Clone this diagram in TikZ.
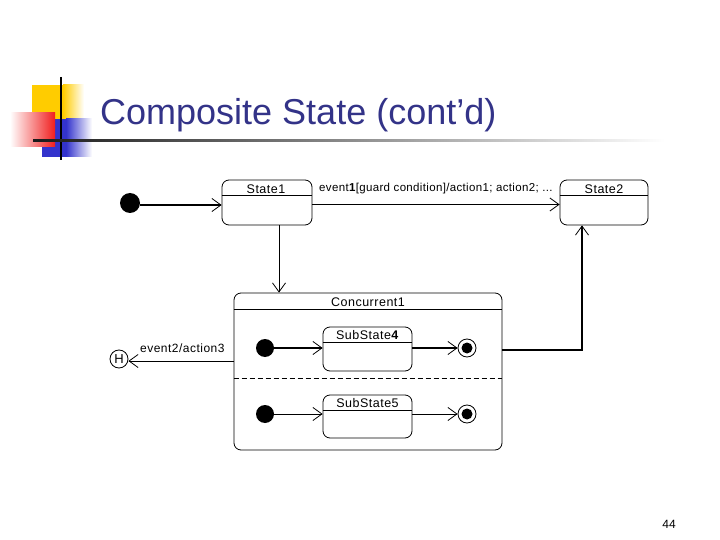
\documentclass[tikz,border=0pt]{standalone}
\usepackage{fontspec}
\setmainfont{Liberation Sans}
\usetikzlibrary{arrows.meta,calc}
\definecolor{titleblue}{RGB}{51,51,136}
\definecolor{decoyellow}{RGB}{255,204,0}
\definecolor{decoblue}{RGB}{51,51,204}
\definecolor{decored}{RGB}{240,30,30}
\newfontfamily\diagfont[LetterSpace=4]{Liberation Sans}
\newfontfamily\longfont[LetterSpace=3]{Liberation Sans}
\tikzset{
  statebox/.style={draw, line width=0.8pt, rounded corners=7pt, inner sep=0pt},
  statelabel/.style={font=\diagfont\fontsize{12.5}{14}\selectfont, inner sep=0pt},
  initdot/.style={circle, fill=black, inner sep=0pt},
  finalouter/.style={circle, draw, line width=0.8pt, fill=white, minimum size=18pt, inner sep=0pt},
  trans/.style={line width=0.8pt, -{Straight Barb[length=9pt,width=13pt,line width=0.8pt]}},
  thicktrans/.style={line width=1.6pt, -{Straight Barb[length=9pt,width=13pt,line width=0.8pt]}},
}
\begin{document}
\begin{tikzpicture}[x=1pt,y=-1pt]
\useasboundingbox (0,0) rectangle (720,540);
% decoration
\fill[decoyellow] (32,85) rectangle (63,119);
\shade[left color=decoyellow, right color=white] (63,85) rectangle (84,119);
\fill[decoblue] (42,119) rectangle (66,157);
\shade[left color=decoblue, right color=white] (66,119) rectangle (92,157);
\shade[left color=white, right color=decored] (10,113) rectangle (55,147);
\draw[line width=2pt] (61,77) -- (61,160);
\shade[left color=black!90, right color=white] (33,140) rectangle (665,142);
% title
\node[anchor=base west, inner sep=0pt, text=titleblue, font=\fontsize{36}{40}\selectfont] (title) at (100,125) {Composite State (cont’d)};
% top states
\node[initdot, minimum size=20pt] (i1) at (130,203) {};
\node[statebox, minimum width=90pt, minimum height=45pt] (s1) at (267,202.5) {};
\draw[line width=0.8pt] ([yshift=-16pt]s1.north west) -- ([yshift=-16pt]s1.north east);
\node[statelabel] (s1l) at (266,189) {State1};
\node[statebox, minimum width=88pt, minimum height=45pt] (s2) at (604,202.5) {};
\draw[line width=0.8pt] ([yshift=-16pt]s2.north west) -- ([yshift=-16pt]s2.north east);
\node[statelabel] (s2l) at (604,189) {State2};
\draw[thicktrans] (i1.east |- 0,205) -- (s1.west |- 0,205);
\draw[trans] ([yshift=-2pt]s1.east) -- ([yshift=-2pt]s2.west);
\node[anchor=west, inner sep=0pt, font=\longfont\fontsize{11.5}{13}\selectfont] (e1) at (319,189) {event\textbf{1}[guard condition]/action1; action2; ...};
% concurrent
\node[statebox, minimum width=268pt, minimum height=157pt] (c1) at (368,371.5) {};
\draw[line width=0.8pt] ([yshift=-17pt]c1.north west) -- ([yshift=-17pt]c1.north east);
\node[statelabel] (c1l) at (368,302) {Concurrent1};
\draw[line width=0.8pt, dashed, dash pattern=on 5pt off 3pt] (c1.west |- 0,378) -- (c1.east |- 0,378);
\draw[trans] ([xshift=12pt]s1.south) -- ([xshift=12pt]s1.south |- c1.north);
\draw[thicktrans] ([yshift=21.5pt]c1.east) -| ([xshift=-22pt]s2.south);
% history
\node[circle, draw, line width=0.8pt, minimum size=18pt, inner sep=0pt, font=\fontsize{13}{14}\selectfont] (h) at (119,359) {H};
\draw[trans] (c1.west |- 0,361) -- (h.east |- 0,361);
\node[anchor=west, inner sep=0pt, font=\diagfont\fontsize{12}{13}\selectfont] (e2) at (140,348) {event2/action3};
% region 1
\node[initdot, minimum size=18pt] (i4) at (265,348) {};
\node[statebox, minimum width=89pt, minimum height=44pt] (ss4) at (367.5,349) {};
\draw[line width=0.8pt] ([yshift=-16pt]ss4.north west) -- ([yshift=-16pt]ss4.north east);
\node[statelabel] (ss4l) at (367.5,335) {SubState\textbf{4}};
\node[finalouter] (f4) at (467,348) {};
\node[initdot, minimum size=11pt] (f4i) at (467,348) {};
\draw[thicktrans] (i4) -- (i4 -| ss4.west);
\draw[thicktrans] (ss4.east |- f4) -- (f4.west);
% region 2
\node[initdot, minimum size=18pt] (i5) at (265,414) {};
\node[statebox, minimum width=89pt, minimum height=43pt] (ss5) at (367.5,416.5) {};
\draw[line width=0.8pt] ([yshift=-16pt]ss5.north west) -- ([yshift=-16pt]ss5.north east);
\node[statelabel] (ss5l) at (367.5,403) {SubState5};
\node[finalouter] (f5) at (467,414) {};
\node[initdot, minimum size=11pt] (f5i) at (467,414) {};
\draw[trans] (i5) -- (i5 -| ss5.west);
\draw[trans] (ss5.east |- f5) -- (f5.west);
% page number
\node[anchor=base, inner sep=0pt, font=\fontsize{12}{14}\selectfont] (pg) at (669,528) {44};
\end{tikzpicture}
\end{document}
